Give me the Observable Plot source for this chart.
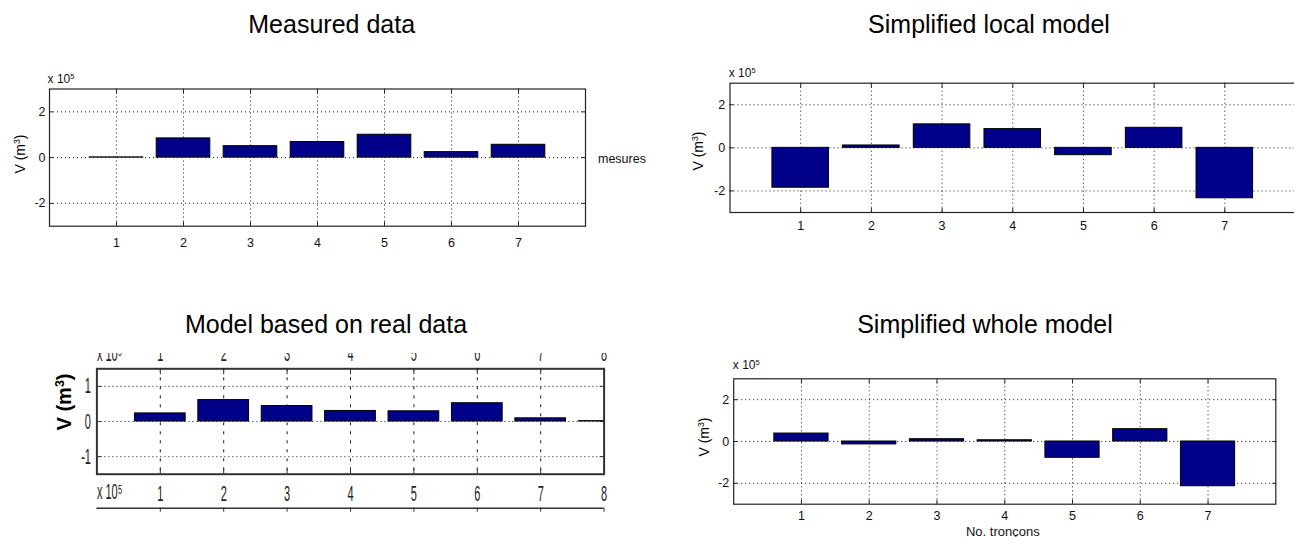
<!DOCTYPE html>
<html><head><meta charset="utf-8">
<script src="https://cdn.jsdelivr.net/npm/d3@7"></script>
<script src="https://cdn.jsdelivr.net/npm/@observablehq/plot@0.6"></script>
<style>
html,body{margin:0;padding:0;background:#fff;overflow:hidden;}
#root{position:relative;width:1294px;height:537px;overflow:hidden;font-family:"Liberation Sans",Arial,Helvetica,sans-serif;color:#000;}
.abs{position:absolute;white-space:nowrap;line-height:1;}
.abs sup{font-size:0.62em;line-height:0;vertical-align:0.55em;}
.plotbox{position:absolute;}
.plotbox svg{display:block;max-width:none;}
</style></head><body><div id="root"></div>
<script>
// ---- data (values in units of 10^5 m^3) ----
const sections7 = [1, 2, 3, 4, 5, 6, 7];
const sections8 = [1, 2, 3, 4, 5, 6, 7, 8];
const measuredData = [0.01, 0.84, 0.50, 0.68, 1.00, 0.24, 0.56];
const localModel   = [-1.85, 0.11, 1.09, 0.87, -0.34, 0.93, -2.34];
const realDataModel = [0.23, 0.61, 0.44, 0.30, 0.29, 0.52, 0.09, 0.01];
const wholeModel   = [0.38, -0.14, 0.11, 0.06, -0.78, 0.59, -2.14];
const xTicks7 = [1, 2, 3, 4, 5, 6, 7];
const xTicks8 = [1, 2, 3, 4, 5, 6, 7, 8];
const yTicksWide = [-2, 0, 2];
const yTicksNarrow = [-1, 0, 1];
const xDomain = [0, 8];
const yDomainWide = [-3, 3];
const yDomainNarrow = [-1.5, 1.5];
const titles = ["Measured data", "Simplified local model", "Model based on real data", "Simplified whole model"];
const legendLabel = "mesures";
const xLabel = "No. tronçons";
const yLabelHtml = "V (m<sup>3</sup>)";
const scaleHtml = "x 10<sup>5</sup>";
const scaleText = "x 10⁵";

const BAR_WIDTH = 0.8;
const BAR_FILL = "#000088";
const root = document.getElementById("root");

function barPanel(c) {
  const data = c.sections.map((s, i) => ({s, v: c.values[i]}));
  const tickOpts = {tickFormat: () => "", label: null, stroke: c.frameColor, strokeWidth: 1};
  const marks = [
    Plot.gridX({ticks: c.xTicks, stroke: "#000", strokeOpacity: 0.9, strokeDasharray: c.gridXDash}),
    Plot.gridY({ticks: c.yTicks, stroke: "#000", strokeOpacity: 0.9, strokeDasharray: "1,3"}),
    Plot.rectY(data, {x1: d => d.s - BAR_WIDTH / 2, x2: d => d.s + BAR_WIDTH / 2, y1: 0, y2: "v",
      fill: BAR_FILL, stroke: "#000", strokeWidth: 1, clip: true}),
    Plot.frame({stroke: c.frameColor, strokeWidth: c.frameWidth}),
    Plot.axisX({ticks: c.xTicks, anchor: "bottom", tickSize: c.tick, dy: -c.tick, ...tickOpts}),
    Plot.axisX({ticks: c.xTicks, anchor: "top", tickSize: c.tick, dy: c.tick, ...tickOpts}),
    Plot.axisY({ticks: c.yTicks, anchor: "left", tickSize: c.tick, dx: c.tick, ...tickOpts}),
    Plot.axisX({ticks: c.xTicks, anchor: "bottom", tickSize: 0, tickPadding: c.xPad, tickFormat: d => String(d),
      label: null, fontSize: c.fontSize, fill: c.textColor, lineAnchor: c.xLineAnchor || "top"}),
    Plot.axisY({ticks: c.yTicks, anchor: "left", tickSize: 0, tickPadding: c.yPad, tickFormat: d => String(d),
      label: null, fontSize: c.fontSize, fill: c.textColor})
  ];
  if (c.rightTicks) marks.push(Plot.axisY({ticks: c.yTicks, anchor: "right", tickSize: c.tick, dx: -c.tick, ...tickOpts}));
  if (c.extra) marks.push(...c.extra);
  const svg = Plot.plot({
    width: c.width, height: c.height,
    marginLeft: c.m[0], marginRight: c.m[1], marginTop: c.m[2], marginBottom: c.m[3],
    x: {domain: xDomain},
    y: {domain: c.yDomain},
    style: {background: "transparent", fontFamily: "'Liberation Sans', Arial, Helvetica, sans-serif", maxWidth: "none", overflow: "hidden"},
    marks
  });
  if (c.condense) {
    svg.querySelectorAll("text").forEach(t => {
      t.setAttribute("transform", (t.getAttribute("transform") || "") + ` scale(${c.condense},1)`);
    });
  }
  const box = document.createElement("div");
  box.className = "plotbox";
  box.style.left = c.left + "px";
  box.style.top = c.top + "px";
  box.appendChild(svg);
  root.appendChild(box);
}

function text(html, {x, y, size = 12.5, weight = "normal", anchor = "start", base = "baseline", color = "#000"}) {
  const d = document.createElement("div");
  d.className = "abs";
  d.innerHTML = html;
  d.style.fontSize = size + "px";
  d.style.fontWeight = weight;
  d.style.color = color;
  const top = base === "baseline" ? y - 0.846 * size : y - 0.49 * size;
  d.style.top = top + "px";
  d.style.left = x + "px";
  if (anchor === "middle") d.style.transform = "translateX(-50%)";
  root.appendChild(d);
}
function vtext(html, {cx, cy, size = 14, weight = "normal"}) {
  const d = document.createElement("div");
  d.className = "abs";
  d.innerHTML = html;
  d.style.fontSize = size + "px";
  d.style.fontWeight = weight;
  d.style.left = cx + "px";
  d.style.top = cy + "px";
  d.style.transform = "translate(-50%,-50%) rotate(-90deg)";
  root.appendChild(d);
}

// Panel 1: Measured data
barPanel({sections: sections7, values: measuredData, xTicks: xTicks7, yTicks: yTicksWide, yDomain: yDomainWide,
  left: 0, top: 60, width: 660, height: 200, m: [49, 75, 28.5, 34.3],
  fontSize: 12.5, textColor: "#111", xPad: 11.6, yPad: 4, tick: 4, frameColor: "#222", frameWidth: 1.2,
  gridXDash: "1,3", rightTicks: true});

// Panel 2: Simplified local model
barPanel({sections: sections7, values: localModel, xTicks: xTicks7, yTicks: yTicksWide, yDomain: yDomainWide,
  left: 660, top: 60, width: 640, height: 180, m: [69.5, 5, 22.7, 28],
  fontSize: 12.5, textColor: "#111", xPad: 8.6, yPad: 4.8, tick: 4, frameColor: "#222", frameWidth: 1.2,
  gridXDash: "1,3", rightTicks: false});

// Panel 3: Model based on real data
barPanel({sections: sections8, values: realDataModel, xTicks: xTicks8, yTicks: yTicksNarrow, yDomain: yDomainNarrow,
  left: 0, top: 353, width: 660, height: 184, m: [96.4, 56.4, 15.3, 63.3],
  fontSize: 22, textColor: "#222", xPad: 19.6, yPad: 6, tick: 5, frameColor: "#333", frameWidth: 2,
  gridXDash: "3,6", rightTicks: true, condense: 0.5, xLineAnchor: "middle",
  extra: [
    Plot.axisX({ticks: xTicks8, anchor: "top", tickSize: 0, tickPadding: 15.3, lineAnchor: "middle",
      tickFormat: d => String(d), label: null, fontSize: 22, fill: "#222"}),
    Plot.text([scaleText], {text: d => d, frameAnchor: "top-left", textAnchor: "start", lineAnchor: "middle",
      dy: -15.3, fontSize: 22, fill: "#222"}),
    Plot.text([scaleText], {text: d => d, frameAnchor: "bottom-left", textAnchor: "start", lineAnchor: "middle",
      dy: 17.5, fontSize: 22, fill: "#222"}),
    Plot.ruleY([yDomainNarrow[0]], {dy: 34, stroke: "#333", strokeWidth: 1.5}),
    Plot.axisX({ticks: xTicks8, anchor: "bottom", tickSize: 4, dy: 34, tickFormat: () => "", label: null, stroke: "#333"})
  ]});

// Panel 4: Simplified whole model
barPanel({sections: sections7, values: wholeModel, xTicks: xTicks7, yTicks: yTicksWide, yDomain: yDomainWide,
  left: 660, top: 355, width: 634, height: 182, m: [73.2, 18.7, 23.3, 33.3],
  fontSize: 12.5, textColor: "#111", xPad: 6.9, yPad: 4.5, tick: 4, frameColor: "#222", frameWidth: 1.2,
  gridXDash: "1,3", rightTicks: true});

// titles
text(titles[0], {x: 331.7, y: 33, size: 25, anchor: "middle"});
text(titles[1], {x: 989, y: 33, size: 25, anchor: "middle"});
text(titles[2], {x: 326, y: 333, size: 25, anchor: "middle"});
text(titles[3], {x: 985, y: 333, size: 25, anchor: "middle"});

// scale annotations and labels
text(scaleHtml, {x: 47.6, y: 82.7, size: 12, color: "#111"});
text(scaleHtml, {x: 728.7, y: 77, size: 12, color: "#111"});
text(scaleHtml, {x: 732.8, y: 369.3, size: 12, color: "#111"});
text(legendLabel, {x: 598, y: 158.7, size: 12.5, base: "middle", color: "#111"});
text(xLabel, {x: 1002.8, y: 531.7, size: 13, base: "middle", anchor: "middle", color: "#111"});
vtext(yLabelHtml, {cx: 19.5, cy: 154, size: 14});
vtext(yLabelHtml, {cx: 698, cy: 151, size: 14});
vtext(yLabelHtml, {cx: 704, cy: 437, size: 14});
vtext(yLabelHtml, {cx: 64, cy: 402, size: 20, weight: "bold"});
</script></body></html>
